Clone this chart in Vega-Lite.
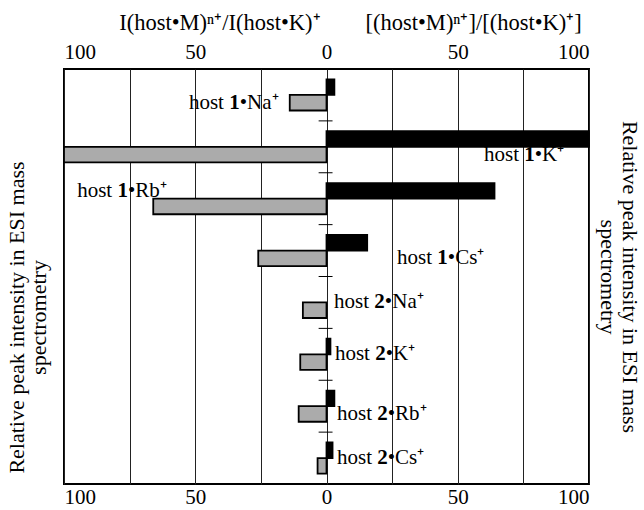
{
  "$schema": "https://vega.github.io/schema/vega-lite/v6.json",
  "width": 525,
  "height": 415,
  "autosize": {"type": "none"},
  "padding": {"left": 64, "top": 69, "right": 55, "bottom": 26},
  "background": "white",
  "config": {
    "view": {"stroke": "black", "strokeWidth": 2},
    "font": "Liberation Serif",
    "axis": {
      "labelFont": "Liberation Serif",
      "titleFont": "Liberation Serif",
      "labelColor": "black",
      "titleColor": "black",
      "titleFontWeight": "normal",
      "labelFontSize": 21,
      "titleFontSize": 22
    },
    "text": {"font": "Liberation Serif", "fontSize": 21, "color": "black", "align": "left", "baseline": "middle"}
  },
  "datasets": {
    "bars": [
      {"cat": "1-Na", "side": "right", "value": 3},
      {"cat": "1-Na", "side": "left", "value": -14},
      {"cat": "1-K", "side": "right", "value": 100},
      {"cat": "1-K", "side": "left", "value": -100},
      {"cat": "1-Rb", "side": "right", "value": 64},
      {"cat": "1-Rb", "side": "left", "value": -66},
      {"cat": "1-Cs", "side": "right", "value": 15.5},
      {"cat": "1-Cs", "side": "left", "value": -26},
      {"cat": "2-Na", "side": "left", "value": -9},
      {"cat": "2-K", "side": "right", "value": 1.5},
      {"cat": "2-K", "side": "left", "value": -10},
      {"cat": "2-Rb", "side": "right", "value": 3},
      {"cat": "2-Rb", "side": "left", "value": -10.6},
      {"cat": "2-Cs", "side": "right", "value": 2.3},
      {"cat": "2-Cs", "side": "left", "value": -3.4}
    ],
    "labels": [
      {"cat": "1-Na", "row": "left", "lx": -52.4, "num": "1", "ion": "•Na⁺"},
      {"cat": "1-K", "row": "left", "lx": 60, "num": "1", "ion": "•K⁺"},
      {"cat": "1-Rb", "row": "right", "lx": -95, "num": "1", "ion": "•Rb⁺"},
      {"cat": "1-Cs", "row": "left", "lx": 26.9, "num": "1", "ion": "•Cs⁺"},
      {"cat": "2-Na", "row": "mid", "lx": 2.9, "num": "2", "ion": "•Na⁺"},
      {"cat": "2-K", "row": "mid", "lx": 3.2, "num": "2", "ion": "•K⁺"},
      {"cat": "2-Rb", "row": "left", "lx": 4, "num": "2", "ion": "•Rb⁺"},
      {"cat": "2-Cs", "row": "mid", "lx": 4, "num": "2", "ion": "•Cs⁺"}
    ]
  },
  "layer": [
    {
      "data": {"name": "bars"},
      "mark": {"type": "bar", "stroke": "black", "strokeWidth": 1.8},
      "encoding": {
        "y": {
          "field": "cat", "type": "nominal", "sort": null,
          "scale": {"domain": ["1-Na", "1-K", "1-Rb", "1-Cs", "2-Na", "2-K", "2-Rb", "2-Cs"], "paddingInner": 0.4, "paddingOuter": 0.2},
          "axis": {"orient": "left", "title": ["Relative peak intensity in ESI mass", "spectrometry"], "labels": false, "ticks": false, "domain": false, "titleLineHeight": 22, "titleX": -36, "titleY": 248, "titleAngle": -90, "titleBaseline": "bottom", "titleAlign": "center"}
        },
        "yOffset": {"field": "side", "type": "nominal", "scale": {"domain": ["right", "left"], "paddingInner": 0, "paddingOuter": 0}},
        "x": {
          "field": "value", "type": "quantitative",
          "scale": {"domain": [-100, 100], "nice": false},
          "axis": {
            "orient": "top", "values": [-100, -50, 0, 50, 100], "labelExpr": "abs(datum.value)",
            "ticks": false, "domain": false, "grid": false, "labelPadding": 7,
            "title": "I(host•M)ⁿ⁺/I(host•K)⁺\u2003\u2003[(host•M)ⁿ⁺]/[(host•K)⁺]",
            "titleFontSize": 22.5, "titleX": 286, "titleY": -40, "titleBaseline": "alphabetic", "titleAlign": "center"
          }
        },
        "color": {"field": "side", "type": "nominal", "scale": {"domain": ["right", "left"], "range": ["black", "#ababab"]}, "legend": null}
      }
    },
    {
      "data": {"name": "labels"},
      "transform": [{"filter": "datum.row != 'mid'"}],
      "mark": {"type": "text", "text": "host"},
      "encoding": {
        "y": {"field": "cat", "type": "nominal", "sort": null, "scale": {"domain": ["1-Na", "1-K", "1-Rb", "1-Cs", "2-Na", "2-K", "2-Rb", "2-Cs"]}, "axis": null},
        "yOffset": {"field": "row", "type": "nominal", "scale": {"domain": ["right", "left"]}},
        "x": {
          "field": "lx", "type": "quantitative",
          "axis": {
            "orient": "bottom", "values": [-100, -75, -50, -25, 0, 25, 50, 75, 100],
            "labelExpr": "datum.value % 50 == 0 ? abs(datum.value) : ''",
            "grid": true, "gridColor": "#222", "gridWidth": 1, "gridOpacity": 1,
            "ticks": false, "domain": false, "title": null, "labelPadding": 2
          }
        }
      }
    },
    {
      "data": {"name": "labels"},
      "transform": [{"filter": "datum.row != 'mid'"}],
      "mark": {"type": "text", "fontWeight": "bold", "dx": 40.25},
      "encoding": {
        "y": {"field": "cat", "type": "nominal", "sort": null, "scale": {"domain": ["1-Na", "1-K", "1-Rb", "1-Cs", "2-Na", "2-K", "2-Rb", "2-Cs"]}, "axis": null},
        "yOffset": {"field": "row", "type": "nominal", "scale": {"domain": ["right", "left"]}},
        "x": {"field": "lx", "type": "quantitative", "axis": null},
        "text": {"field": "num"}
      }
    },
    {
      "data": {"name": "labels"},
      "transform": [{"filter": "datum.row != 'mid'"}],
      "mark": {"type": "text", "dx": 50.75},
      "encoding": {
        "y": {"field": "cat", "type": "nominal", "sort": null, "scale": {"domain": ["1-Na", "1-K", "1-Rb", "1-Cs", "2-Na", "2-K", "2-Rb", "2-Cs"]}, "axis": null},
        "yOffset": {"field": "row", "type": "nominal", "scale": {"domain": ["right", "left"]}},
        "x": {"field": "lx", "type": "quantitative", "axis": null},
        "text": {"field": "ion"}
      }
    },
    {
      "data": {"name": "labels"},
      "transform": [{"filter": "datum.row == 'mid'"}],
      "mark": {"type": "text", "text": "host"},
      "encoding": {
        "y": {"field": "cat", "type": "nominal", "sort": null, "scale": {"domain": ["1-Na", "1-K", "1-Rb", "1-Cs", "2-Na", "2-K", "2-Rb", "2-Cs"]}, "axis": null},
        "x": {"field": "lx", "type": "quantitative", "axis": null}
      }
    },
    {
      "data": {"name": "labels"},
      "transform": [{"filter": "datum.row == 'mid'"}],
      "mark": {"type": "text", "fontWeight": "bold", "dx": 40.25},
      "encoding": {
        "y": {"field": "cat", "type": "nominal", "sort": null, "scale": {"domain": ["1-Na", "1-K", "1-Rb", "1-Cs", "2-Na", "2-K", "2-Rb", "2-Cs"]}, "axis": null},
        "x": {"field": "lx", "type": "quantitative", "axis": null},
        "text": {"field": "num"}
      }
    },
    {
      "data": {"name": "labels"},
      "transform": [{"filter": "datum.row == 'mid'"}],
      "mark": {"type": "text", "dx": 50.75},
      "encoding": {
        "y": {"field": "cat", "type": "nominal", "sort": null, "scale": {"domain": ["1-Na", "1-K", "1-Rb", "1-Cs", "2-Na", "2-K", "2-Rb", "2-Cs"]}, "axis": null},
        "x": {"field": "lx", "type": "quantitative", "axis": null},
        "text": {"field": "ion"}
      }
    },
    {
      "data": {"name": "labels"},
      "mark": {"type": "rule", "color": "black", "strokeWidth": 1},
      "encoding": {
        "y": {
          "field": "cat", "type": "nominal", "sort": null, "bandPosition": -0.3333,
          "scale": {"domain": ["1-Na", "1-K", "1-Rb", "1-Cs", "2-Na", "2-K", "2-Rb", "2-Cs"]},
          "axis": {"orient": "right", "title": ["Relative peak intensity in ESI mass", "spectrometry"], "titleAngle": 90, "labels": false, "ticks": false, "domain": false, "titlePadding": 6, "titleLineHeight": 22}
        },
        "x": {"datum": -3, "axis": null},
        "x2": {"datum": 2.3}
      }
    }
  ],
  "resolve": {"axis": {"x": "independent", "y": "independent"}}
}
